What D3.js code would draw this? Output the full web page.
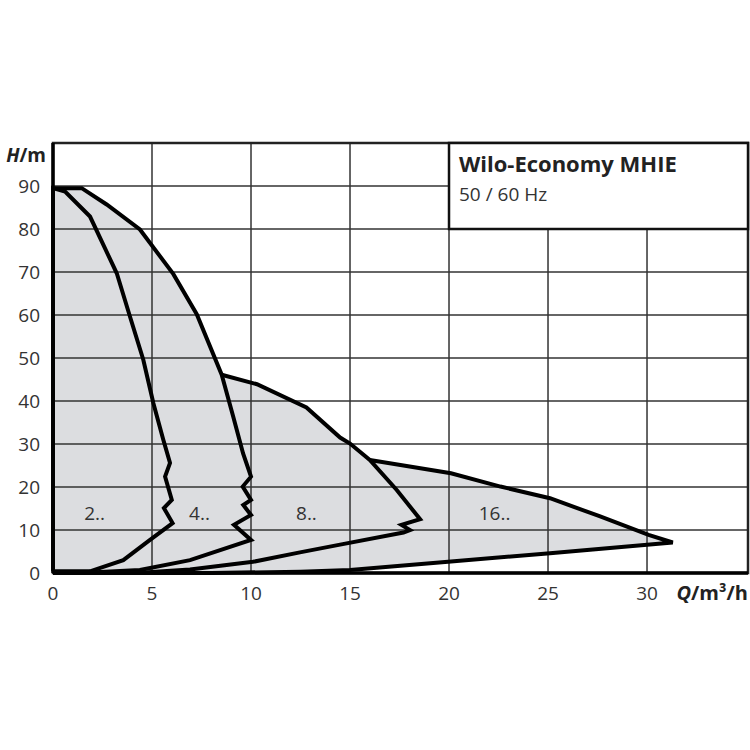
<!DOCTYPE html>
<html><head><meta charset="utf-8">
<script src="https://cdn.jsdelivr.net/npm/d3@7"></script>
<style>body{margin:0;background:#fff}text{font-family:"Open Sans",sans-serif}</style>
</head><body><svg id="c" width="750" height="750"></svg>
<script>
const xTicks=[0,5,10,15,20,25,30];
const yTicks=[0,10,20,30,40,50,60,70,80,90];
const curve2=[[0,0.4],[0,89.5],[0.61,88.7],[1.87,82.9],[3.22,69.7],[3.89,59.6],[4.56,49.6],[5.07,39.5],[5.57,31.0],[5.91,25.6],[5.66,22.4],[6.0,17.0],[5.6,15.1],[6.04,11.6],[4.9,7.7],[3.55,3.0],[1.87,0.4],[0,0.4]];
const curve4=[[0,89.5],[1.45,89.5],[2.71,85.7],[4.39,79.9],[6.08,69.5],[7.26,60.2],[8.52,46.1],[9.1,36.4],[9.6,27.8],[10.0,22.4],[9.58,20.1],[10.0,17.0],[9.61,15.8],[10.0,13.5],[9.14,11.2],[10.0,7.7],[6.92,3.0],[4.39,0.7],[1.87,0.1],[0,0]];
const curve8=[[8.52,46.1],[10.3,43.9],[12.8,38.5],[14.5,31.5],[15.0,30.1],[16.0,26.3],[17.36,19.3],[18.54,12.5],[17.6,11.2],[18.03,10.0],[17.7,9.4],[14.5,6.6],[12.47,4.8],[10.1,2.6],[6.92,0.8],[4.4,0.05],[0,0]];
const curve16=[[16.0,26.3],[20.1,23.2],[22.6,20.1],[25.1,17.4],[27.6,13.2],[30.08,8.85],[31.3,7.1],[25.1,4.6],[20.1,2.7],[15.0,0.7],[12.5,0.3],[8,0],[0,0]];
const labels=[["2..",2.1],["4..",7.4],["8..",12.8],["16..",22.3]];
const labelH=14;
const title="Wilo-Economy MHIE", sub="50 / 60 Hz";

const svg=d3.select("#c");
const x=d3.scaleLinear().domain([0,35.1]).range([53,748]);
const y=d3.scaleLinear().domain([0,100]).range([573,143]);
const line=d3.line().x(d=>x(d[0])).y(d=>y(d[1]));
// fills
const fills=[
 curve2,
 curve4,
 curve8.concat([[0,0],[0,46.1]]),
 curve16.concat([[0,0],[0,26.3]])
];
fills.forEach(f=>svg.append("path").attr("d",line(f)+"Z").attr("fill","#dcdde0"));
// grid
const g=svg.append("g").attr("stroke","#333").attr("stroke-width",1.5);
xTicks.slice(1).forEach(t=>g.append("line").attr("x1",x(t)).attr("x2",x(t)).attr("y1",y(0)).attr("y2",y(100)));
yTicks.concat([100]).slice(1).forEach(t=>g.append("line").attr("x1",x(0)).attr("x2",x(35.1)).attr("y1",y(t)).attr("y2",y(t)));
// curves
[curve2,curve4,curve8,curve16].forEach(c=>svg.append("path").attr("d",line(c)).attr("fill","none").attr("stroke","#000").attr("stroke-width",4).attr("stroke-linejoin","miter"));
// frame
svg.append("rect").attr("x",x(0)).attr("y",y(100)).attr("width",x(35.1)-x(0)).attr("height",y(0)-y(100)).attr("fill","none").attr("stroke","#222").attr("stroke-width",2.5);
svg.append("line").attr("x1",x(0)).attr("x2",x(0)).attr("y1",y(0)).attr("y2",y(100)).attr("stroke","#000").attr("stroke-width",3.5);
svg.append("line").attr("x1",x(0)).attr("x2",x(35.1)).attr("y1",y(0)).attr("y2",y(0)).attr("stroke","#000").attr("stroke-width",3.5);
// title box
svg.append("rect").attr("x",x(20)).attr("y",y(100)).attr("width",x(35.1)-x(20)).attr("height",y(80)-y(100)).attr("fill","#fff").attr("stroke","#111").attr("stroke-width",2.5);
svg.append("text").attr("x",x(20)+10).attr("y",y(100)+29).attr("font-size",22).attr("font-weight","bold").attr("fill","#222").text(title);
svg.append("text").attr("x",x(20)+10).attr("y",y(100)+58).attr("font-size",19).attr("fill","#333").text(sub);
// ticks
yTicks.forEach(t=>svg.append("text").attr("x",40).attr("y",y(t)+7).attr("text-anchor","end").attr("font-size",19).attr("fill","#333").text(t));
xTicks.forEach(t=>svg.append("text").attr("x",x(t)).attr("y",600).attr("text-anchor","middle").attr("font-size",19).attr("fill","#333").text(t));
const yl=svg.append("text").attr("x",46).attr("y",162).attr("text-anchor","end").attr("font-size",19).attr("font-weight","bold").attr("fill","#222");
yl.append("tspan").attr("font-style","italic").text("H");yl.append("tspan").text("/m");
const xl=svg.append("text").attr("x",748).attr("y",600).attr("text-anchor","end").attr("font-size",20).attr("font-weight","bold").attr("fill","#222");
xl.append("tspan").attr("font-style","italic").text("Q");xl.append("tspan").text("/m³/h");
labels.forEach(l=>svg.append("text").attr("x",x(l[1])).attr("y",y(labelH)+7).attr("text-anchor","middle").attr("font-size",19).attr("fill","#333").text(l[0]));
</script></body></html>
